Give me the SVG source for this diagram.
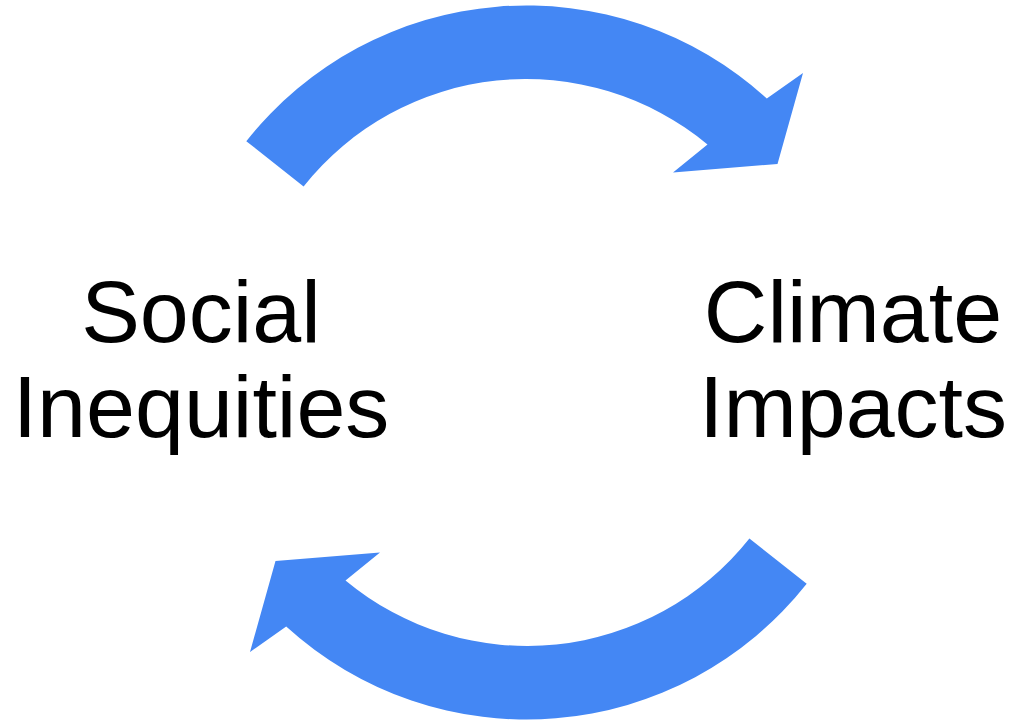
<svg xmlns="http://www.w3.org/2000/svg" width="1015" height="720" viewBox="0 0 1015 720">
  <style>
    .arrow { fill: #4487F4; stroke: none; }
    .label { font-family: "Liberation Sans", Arial, sans-serif; font-size: 88px; fill: #000000; text-anchor: middle; }
  </style>
  <rect width="1015" height="720" fill="#ffffff"/>
  <g id="connectors">
    <path id="arrow-top" class="arrow" d="M 246.3 141.2 A 357 357 0 0 1 766.8 98.5 L 803 73 L 777.5 164 L 673 172.5 L 707.5 144.5 A 284 284 0 0 0 303.6 186.5 Z"/>
    <path id="arrow-bottom" class="arrow" d="M 806.7 583.8 A 357 357 0 0 1 286.2 626.5 L 250 652 L 275.5 561 L 380 552.5 L 345.5 580.5 A 284 284 0 0 0 749.4 538.5 Z"/>
  </g>
  <g id="node-social">
    <text class="label" x="201" y="342">Social</text>
    <text class="label" x="201" y="437">Inequities</text>
  </g>
  <g id="node-climate">
    <text class="label" x="853" y="342">Climate</text>
    <text class="label" x="853" y="437">Impacts</text>
  </g>
</svg>
